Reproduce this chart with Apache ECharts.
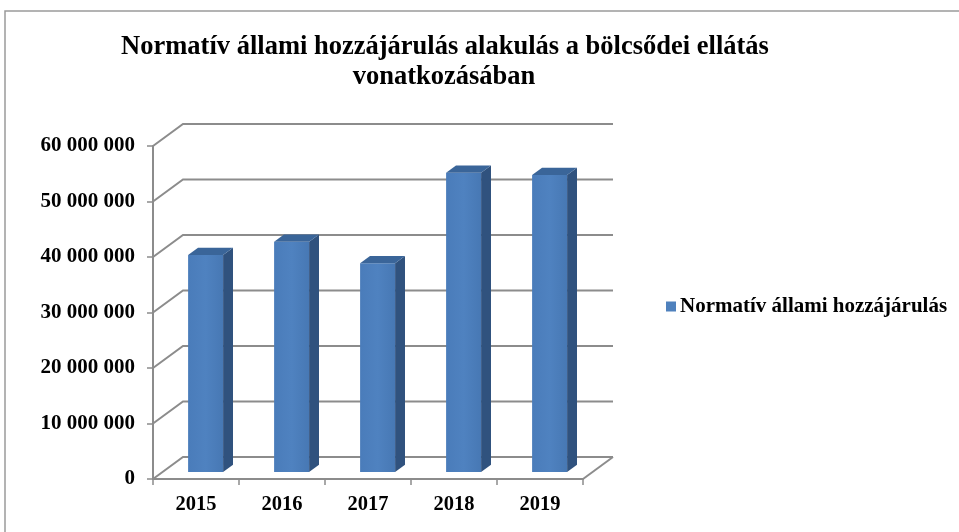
<!DOCTYPE html>
<html>
<head>
<meta charset="utf-8">
<script src="https://cdn.jsdelivr.net/npm/echarts@6/dist/echarts.min.js"></script>
<style>html,body{margin:0;padding:0;background:#fff;}#c{width:959px;height:532px;}</style>
</head>
<body>
<div id="c"></div>
<script>
const categories = ['2015', '2016', '2017', '2018', '2019'];
const values = [39100000, 41500000, 37600000, 53900000, 53500000];
const yTicks = [0, 10000000, 20000000, 30000000, 40000000, 50000000, 60000000];
const seriesName = 'Normatív állami hozzájárulás';
const titleLines = ['Normatív állami hozzájárulás alakulás a bölcsődei ellátás', 'vonatkozásában'];

const DX = 30, DY = -22;       // depth vector of the 3D box
const F0 = 0.32, F1 = 0.65;    // bar depth range (fraction)
const BAR_W = 35;
const FONT = '"Liberation Serif", "Times New Roman", serif';

const chart = echarts.init(document.getElementById('c'), null, {renderer: 'canvas'});

function fmt(v) {
  return String(v).replace(/\B(?=(\d{3})+(?!\d))/g, ' ');
}

const option = {
  animation: false,
  backgroundColor: '#fff',
  graphic: [
    {type: 'rect', shape: {x: 5, y: 11, width: 1000, height: 600}, style: {fill: 'none', stroke: '#9a9a9a', lineWidth: 1.5}, z: 0},
    {type: 'text', x: 445, y: 47, style: {text: titleLines[0], font: 'bold 26.5px ' + FONT, fill: '#000', textAlign: 'center', textVerticalAlign: 'middle'}},
    {type: 'text', x: 444, y: 77, style: {text: titleLines[1], font: 'bold 26.5px ' + FONT, fill: '#000', textAlign: 'center', textVerticalAlign: 'middle'}}
  ],
  legend: {
    data: [{name: seriesName, icon: 'rect', itemStyle: {color: '#4F81BD'}}],
    left: 661, top: 291, orient: 'vertical',
    itemWidth: 10, itemHeight: 10, itemGap: 4,
    textStyle: {fontFamily: FONT, fontWeight: 'bold', fontSize: 21, color: '#000', padding: [0,0,0,-1]}
  },
  grid: {left: 153, top: 146, width: 430, height: 333, containLabel: false},
  xAxis: {
    type: 'category', data: categories,
    axisLine: {show: true, lineStyle: {color: '#8c8c8c', width: 2}},
    axisTick: {show: true, length: 6, lineStyle: {color: '#8c8c8c', width: 1.5}},
    axisLabel: {margin: 15, fontFamily: FONT, fontWeight: 'bold', fontSize: 20.5, color: '#000'},
    splitLine: {show: false}
  },
  yAxis: {
    type: 'value', min: 0, max: 60000000, interval: 10000000,
    axisLine: {show: true, lineStyle: {color: '#8c8c8c', width: 2}},
    axisTick: {show: true, length: 6, lineStyle: {color: '#8c8c8c', width: 1.5}},
    axisLabel: {margin: 18, fontFamily: FONT, fontWeight: 'bold', fontSize: 21, color: '#000', formatter: fmt},
    splitLine: {show: false}
  },
  series: [
    {
      name: 'walls', type: 'custom', silent: true, clip: false, z: 1,
      data: yTicks.map(v => [0, v]),
      renderItem: function (params, api) {
        const band = api.size([1, 0])[0];
        const p = api.coord([0, api.value(1)]);
        const pr = api.coord([categories.length - 1, api.value(1)]);
        const left = p[0] - band / 2, right = pr[0] + band / 2, y = p[1];
        const style = {stroke: '#8c8c8c', lineWidth: 2, fill: 'none'};
        const children = [{
          type: 'polyline',
          shape: {points: [[left, y], [left + DX, y + DY], [right + DX, y + DY]]},
          style: style
        }];
        if (api.value(1) === 0) {
          children.push({type: 'line', shape: {x1: right, y1: y, x2: right + DX, y2: y + DY}, style: style});
        }
        return {type: 'group', children: children};
      }
    },
    {
      name: seriesName, type: 'custom', clip: false, z: 2,
      itemStyle: {color: '#4F81BD'},
      data: values.map((v, i) => [i, v]),
      renderItem: function (params, api) {
        const base = api.coord([api.value(0), 0]);
        const top = api.coord([api.value(0), api.value(1)]);
        const ox = DX * F0, oy = DY * F0;
        const dx = DX * (F1 - F0), dy = DY * (F1 - F0);
        const xl = base[0] - BAR_W / 2 + ox, xr = base[0] + BAR_W / 2 + ox;
        const yb = base[1] + oy, yt = top[1] + oy;
        return {
          type: 'group',
          children: [
            {type: 'rect', shape: {x: xl, y: yt, width: xr - xl, height: yb - yt},
             style: {fill: new echarts.graphic.LinearGradient(0, 0, 1, 0, [{offset: 0, color: '#4a7cba'}, {offset: 0.5, color: '#4f82c0'}, {offset: 1, color: '#4778b4'}])}},
            {type: 'polygon', shape: {points: [[xr, yb], [xr, yt], [xr + dx, yt + dy], [xr + dx, yb + dy]]},
             style: {fill: '#30527e'}},
            {type: 'polygon', shape: {points: [[xl, yt], [xr, yt], [xr + dx, yt + dy], [xl + dx, yt + dy]]},
             style: {fill: '#3a6599'}}
          ]
        };
      }
    }
  ]
};
chart.setOption(option);
</script>
</body>
</html>
